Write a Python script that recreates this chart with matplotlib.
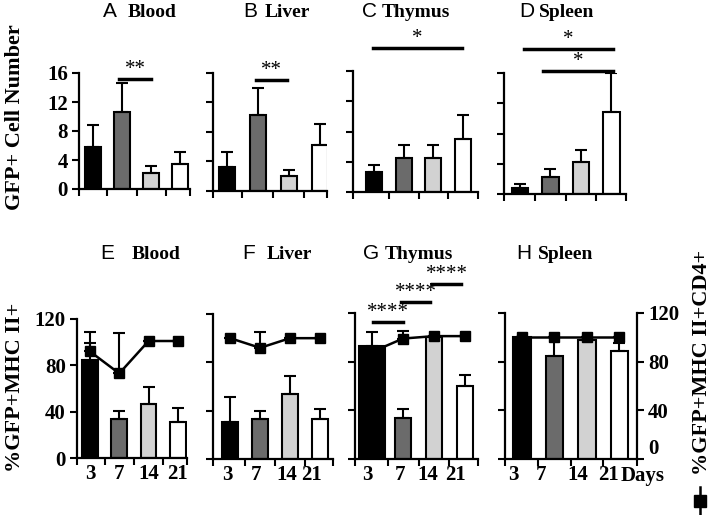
import matplotlib
matplotlib.use("Agg")
import matplotlib.pyplot as plt
from matplotlib.lines import Line2D

W, H = 711, 515

DAYS = ["3", "7", "14", "21"]
BAR_COLORS = ["#000000", "#6b6b6b", "#d2d2d2", "#ffffff"]

# top row: GFP+ cell number (mean, upper error)
A_MEAN = [5.8, 10.6, 2.2, 3.45]
A_ERR = [3.0, 4.0, 1.0, 1.65]
B_MEAN = [3.2, 10.3, 2.1, 6.2]
B_ERR = [2.1, 3.7, 0.8, 2.9]
C_MEAN = [2.6, 4.5, 4.5, 7.0]
C_ERR = [1.0, 1.7, 1.7, 3.2]
D_MEAN = [0.75, 2.3, 4.2, 10.9]
D_ERR = [0.55, 1.0, 1.6, 5.1]

# bottom row: %GFP+MHC II+ (bars) and %GFP+MHC II+CD4+ (line)
E_MEAN = [85, 34, 47, 31]
E_ERR = [14, 6.5, 14, 12]
E_LINE = [92, 73, 101, 101]
E_LINE_ERR = [17, 35, 0, 0]
F_MEAN = [30.5, 33, 54, 33]
F_ERR = [20.5, 7, 15, 8]
F_LINE = [100, 92, 100, 100]
F_LINE_ERR = [0, 13, 0, 0]
G_MEAN = [93, 34, 100, 60]
G_ERR = [11, 7, 0, 9]
G_LINE = [88, 99, 101, 101]
G_LINE_ERR = [0, 6, 0, 0]
H_MEAN = [100, 85, 98, 89]
H_ERR = [0, 15, 2, 6]
H_LINE = [100, 100, 100, 100]
H_LINE_ERR = [0, 0, 0, 0]

# significance brackets: (x0, x1, y, label)
A_SIG = [(0.9, 2.0, 15.2, "**")]
B_SIG = [(0.95, 1.95, 15.0, "**")]
C_SIG = [(-0.05, 2.95, 19.0, "*")]
D_SIG = [(0.13, 3.05, 19.2, "*"), (0.75, 3.05, 16.3, "*")]
G_SIG = [(0.03, 1.0, 113, "****"), (0.94, 1.87, 129, "****"), (1.94, 2.87, 144, "****")]

plt.rcParams["font.family"] = ["Liberation Serif", "DejaVu Serif"]
plt.rcParams["font.weight"] = "bold"

fig = plt.figure(figsize=(W / 100, H / 100), dpi=100)


def px_axes(box):
    l, r, t, b = box
    return fig.add_axes([l / W, 1 - b / H, (r - l) / W, (b - t) / H])


def style_axes(ax, xlim, ylim, yticks, show_ylabels, label_pos=None):
    ax.set_xlim(*xlim)
    ax.set_ylim(*ylim)
    for s in ["top", "right"]:
        ax.spines[s].set_visible(False)
    for s in ["left", "bottom"]:
        ax.spines[s].set_linewidth(1.6)
    ax.set_xticks([xlim[0], 0.5, 1.5, 2.5, xlim[1]])
    ax.set_xticklabels([])
    ax.set_yticks(yticks)
    if show_ylabels:
        ax.set_yticklabels([str(v) for v in yticks])
    else:
        ax.set_yticklabels([])
    ax.tick_params(axis="both", which="major", direction="out", length=5, width=1.5, labelsize=15, pad=3)
    if label_pos is not None:
        ax.set_xticks(label_pos, minor=True)
        ax.set_xticklabels(DAYS, minor=True)
        ax.tick_params(axis="x", which="minor", length=0, labelsize=15, pad=4)


def draw_bars(ax, mean, err, widths):
    x = list(range(len(mean)))
    ax.bar(x, mean, width=widths, color=BAR_COLORS, edgecolor="black", linewidth=1.5, zorder=2)
    ax.errorbar(x, mean, yerr=[[0] * len(err), err], fmt="none", ecolor="black",
                elinewidth=1.5, capsize=4, capthick=1.5, zorder=3)


def draw_sig(ax, sigs, fs):
    for x0, x1, y, lab in sigs:
        ax.plot([x0, x1], [y, y], color="black", lw=2.5, clip_on=False, zorder=5)
        ax.text((x0 + x1) / 2, y, lab, ha="center", va="bottom", fontsize=fs,
                fontweight="normal", clip_on=False)


def title(letter, name, x_letter, x_name, y_base):
    fig.text(x_letter / W, 1 - y_base / H, letter, family="Liberation Sans", fontweight="normal",
             fontsize=15, va="baseline", ha="left")
    fig.text(x_name / W, 1 - y_base / H, name, fontsize=14, fontweight="bold", va="baseline", ha="left")


# ---- top row ----
top = [
    ("A", "Blood", A_MEAN, A_ERR, A_SIG, (79, 190, 73, 189), (-0.48, 3.34), 103, 128),
    ("B", "Liver", B_MEAN, B_ERR, B_SIG, (213, 327, 73, 191), (-0.45, 3.23), 243, 265),
    ("C", "Thymus", C_MEAN, C_ERR, C_SIG, (353, 478, 71, 192), (-0.71, 3.5), 362, 382),
    ("D", "Spleen", D_MEAN, D_ERR, D_SIG, (504, 626, 73, 194), (-0.52, 3.48), 519, 539),
]
for i, (letter, name, mean, err, sig, box, xlim, xl, xn) in enumerate(top):
    ax = px_axes(box)
    draw_bars(ax, mean, err, 0.54)
    style_axes(ax, xlim, (0, 16), [0, 4, 8, 12, 16], i == 0)
    draw_sig(ax, sig, 15)
    title(letter, name, xl, xn, 17)

# ---- bottom row ----
bottom = [
    ("E", "Blood", E_MEAN, E_ERR, E_LINE, E_LINE_ERR, [], (77, 187, 319, 458), (-0.44, 3.31),
     [0, 1, 2, 3], 100, 132),
    ("F", "Liver", F_MEAN, F_ERR, F_LINE, F_LINE_ERR, [], (213, 333, 314, 459), (-0.57, 3.43),
     [-0.1, 0.87, 1.9, 2.73], 242, 267),
    ("G", "Thymus", G_MEAN, G_ERR, G_LINE, G_LINE_ERR, G_SIG, (355, 478, 313, 459), (-0.55, 3.42),
     [-0.15, 0.9, 1.8, 2.7], 363, 385),
    ("H", "Spleen", H_MEAN, H_ERR, H_LINE, H_LINE_ERR, [], (505, 637, 313, 459), (-0.52, 3.54),
     [-0.25, 0.6, 1.72, 2.65], 516, 538),
]
for i, (letter, name, mean, err, line, line_err, sig, box, xlim, lpos, xl, xn) in enumerate(bottom):
    ax = px_axes(box)
    widths = [0.82, 0.52, 0.52, 0.52] if letter == "G" else 0.54
    draw_bars(ax, mean, err, widths)
    x = list(range(len(line)))
    ax.errorbar(x, line, yerr=[[0] * len(line_err), line_err], color="black", lw=1.8,
                marker="s", markersize=6.5, elinewidth=1.5, capsize=4, capthick=1.5, zorder=4)
    style_axes(ax, xlim, (0, 120), [0, 40, 80, 120], i == 0, lpos)
    draw_sig(ax, sig, 15)
    title(letter, name, xl, xn, 259)
    if letter == "H":
        ax2 = ax.twinx()
        ax2.set_ylim(0, 120)
        ax2.set_yticks([0, 40, 80, 120])
        for s in ["top", "left", "bottom"]:
            ax2.spines[s].set_visible(False)
        ax2.spines["right"].set_linewidth(1.6)
        ax2.tick_params(axis="y", direction="out", length=5, width=1.5, labelsize=15, pad=3)
        for lab in ax2.get_yticklabels():
            if lab.get_text() == "0":
                lab.set_va("bottom")

# axis titles
fig.text(15 / W, 1 - 117 / H, "GFP+ Cell Number", rotation=90, ha="center", va="center",
         fontsize=16, fontweight="bold")
fig.text(15 / W, 1 - 387 / H, "%GFP+MHC II+", rotation=90, ha="center", va="center",
         fontsize=16, fontweight="bold")
fig.text(702 / W, 1 - 362 / H, "%GFP+MHC II+CD4+", rotation=90, ha="center", va="center",
         fontsize=16, fontweight="bold")
fig.text(621 / W, 1 - 481 / H, "Days", ha="left", va="baseline", fontsize=15, fontweight="bold")

# legend symbol for the line
fig.add_artist(Line2D([700 / W, 700 / W], [1 - 487 / H, 0], color="black", lw=1.8,
                      transform=fig.transFigure))
fig.add_artist(Line2D([700 / W], [1 - 501 / H], color="black", marker="s", markersize=9,
                      transform=fig.transFigure))

fig.savefig("out.png", dpi=100)
